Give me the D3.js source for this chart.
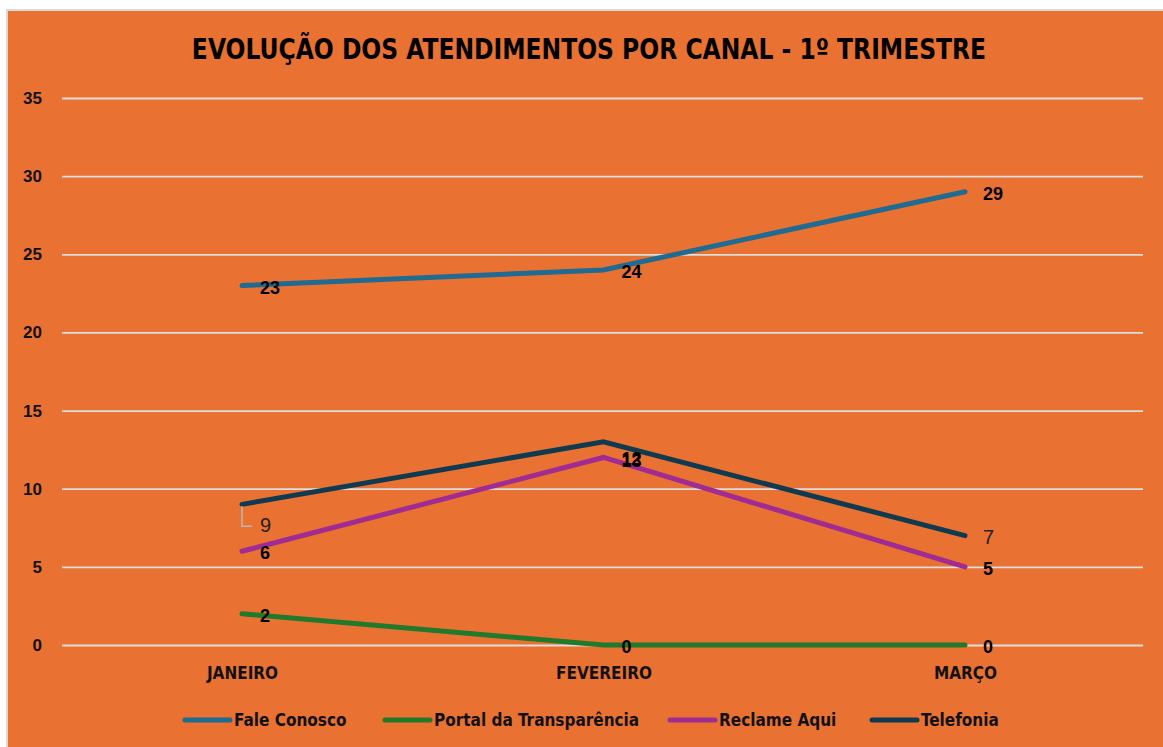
<!DOCTYPE html>
<html>
<head>
<meta charset="utf-8">
<script src="https://cdn.jsdelivr.net/npm/d3@7"></script>
<style>
  html, body { margin: 0; padding: 0; background: #fff; }
  svg { display: block; }
</style>
</head>
<body>
<div id="chart"></div>
<script>
(function () {
  const months = ["JANEIRO", "FEVEREIRO", "MARÇO"];
  const seriesNames = ["Fale Conosco", "Portal da Transparência", "Reclame Aqui", "Telefonia"];
  const faleConosco = [23, 24, 29];
  const portalTransparencia = [2, 0, 0];
  const reclameAqui = [6, 12, 5];
  const telefonia = [9, 13, 7];
  const yTicks = [0, 5, 10, 15, 20, 25, 30, 35];
  const colors = ["#1f6b91", "#217a2b", "#a02b93", "#0f3a50"];

  const series = [faleConosco, portalTransparencia, reclameAqui, telefonia].map((values, i) => ({
    name: seriesNames[i],
    values,
    color: colors[i]
  }));

  const width = 1163;
  const height = 747;
  const bg = "#e97132";
  const condensed = "'DejaVu Sans Condensed', 'Liberation Sans Narrow', 'Roboto', sans-serif";
  const sans = "'Liberation Sans', Arial, sans-serif";

  const svg = d3.select("#chart").append("svg").attr("width", width).attr("height", height);

  // chart area with light border on left/top
  svg.append("rect").attr("x", 6).attr("y", 9).attr("width", width).attr("height", height)
    .attr("fill", "#d9d9d9");
  svg.append("rect").attr("x", 8).attr("y", 11).attr("width", width).attr("height", height)
    .attr("fill", bg);

  const x = d3.scalePoint().domain(months).range([242, 965]);
  const y = d3.scaleLinear().domain([0, 35]).range([645, 98]);

  // title
  svg.append("text")
    .attr("transform", "translate(589,59) scale(0.965,1.05)")
    .attr("text-anchor", "middle")
    .style("font-family", condensed)
    .style("font-stretch", "condensed")
    .style("font-weight", "bold")
    .style("font-size", "27px")
    .style("fill", "#000")
    .text("EVOLUÇÃO DOS ATENDIMENTOS POR CANAL - 1º TRIMESTRE");

  // gridlines + y tick labels
  const yAxis = d3.axisLeft(y).tickValues(yTicks).tickSize(-(1143 - 62)).tickPadding(20);
  const gy = svg.append("g").attr("transform", "translate(62,0)").call(yAxis)
    .attr("font-size", 17).attr("font-family", sans);
  gy.select(".domain").remove();
  gy.selectAll(".tick line").attr("stroke", "#dedede").attr("stroke-width", 1.8);
  gy.selectAll(".tick text")
    .attr("font-weight", "bold")
    .attr("fill", "#111");

  // x axis labels
  const xAxis = d3.axisBottom(x).tickSize(0).tickPadding(22);
  const gx = svg.append("g").attr("transform", "translate(0,645)").call(xAxis)
    .attr("font-size", 17).attr("font-family", condensed);
  gx.select(".domain").remove();
  gx.selectAll(".tick text")
    .attr("font-weight", "bold")
    .attr("fill", "#111");

  const line = d3.line().x((d, i) => x(months[i])).y((d) => y(d));

  svg.append("g").selectAll("path")
    .data(series)
    .join("path")
    .attr("d", (d) => line(d.values))
    .attr("fill", "none")
    .attr("stroke", (d) => d.color)
    .attr("stroke-width", 5)
    .attr("stroke-linecap", "round")
    .attr("stroke-linejoin", "miter");

  // data labels
  const lg = svg.append("g");
  series.forEach((s, si) => {
    s.values.forEach((v, i) => {
      const px = x(months[i]);
      const py = y(v);
      if (si === 3 && i !== 1) {
        // plain (non-bold) labels for Telefonia ends
        let ty = py + 8;
        if (i === 0) {
          ty = py + 28;
          lg.append("path")
            .attr("d", `M${px},${py + 2} V${py + 22} H${px + 10}`)
            .attr("fill", "none")
            .attr("stroke", "#b8b8b8")
            .attr("stroke-width", 1.5);
        }
        lg.append("text")
          .attr("x", px + 18).attr("y", ty)
          .style("font-family", sans)
          .style("font-size", "20px")
          .style("fill", "#222")
          .text(v);
      } else {
        // Telefonia's February label overlaps Reclame Aqui's
        const ty = (si === 3 && i === 1) ? y(reclameAqui[1]) + 10 : py + 8;
        lg.append("text")
          .attr("x", px + 18).attr("y", ty)
          .style("font-family", sans)
          .style("font-weight", "bold")
          .style("font-size", "18px")
          .style("fill", "#000")
          .text(v);
      }
    });
  });

  // legend
  const legendX = [183, 383, 668, 870];
  const leg = svg.append("g").selectAll("g")
    .data(series)
    .join("g")
    .attr("transform", (d, i) => `translate(${legendX[i]},720)`);
  leg.append("line")
    .attr("x1", 2).attr("x2", 47)
    .attr("stroke", (d) => d.color)
    .attr("stroke-width", 5)
    .attr("stroke-linecap", "round");
  leg.append("text")
    .attr("x", 51).attr("y", 6)
    .style("font-family", condensed)
    .style("font-stretch", "condensed")
    .style("font-weight", "bold")
    .style("font-size", "17px")
    .style("fill", "#111")
    .text((d) => d.name);
})();
</script>
</body>
</html>
